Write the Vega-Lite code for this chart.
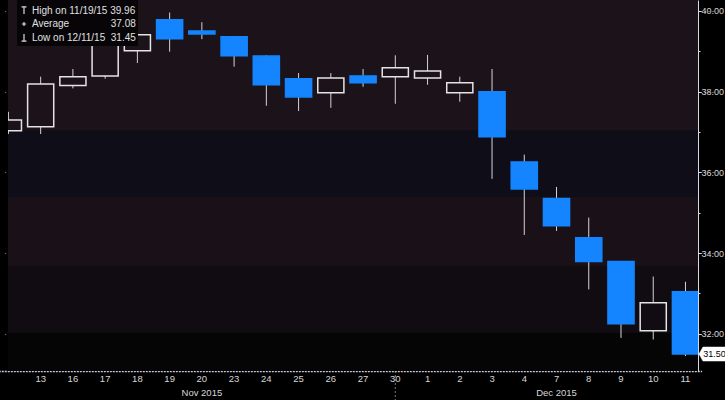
{
  "$schema": "https://vega.github.io/schema/vega-lite/v6.json",
  "autosize": {"type": "none"},
  "width": 690,
  "height": 371,
  "padding": {"left": 8, "top": 0, "right": 27, "bottom": 29},
  "background": "#000000",
  "config": {
    "view": {"stroke": null},
    "font": "Liberation Sans, Arial, sans-serif"
  },
  "datasets": {
    "prices": [
      {"date": "2015-11-12", "open": 37.03, "close": 37.30, "high": 37.50, "low": 36.95},
      {"date": "2015-11-13", "open": 37.13, "close": 38.19, "high": 38.37, "low": 36.95},
      {"date": "2015-11-16", "open": 38.15, "close": 38.37, "high": 38.56, "low": 38.08},
      {"date": "2015-11-17", "open": 38.39, "close": 39.20, "high": 39.22, "low": 38.32},
      {"date": "2015-11-18", "open": 39.01, "close": 39.41, "high": 39.48, "low": 38.71},
      {"date": "2015-11-19", "open": 39.78, "close": 39.31, "high": 39.96, "low": 38.99},
      {"date": "2015-11-20", "open": 39.50, "close": 39.43, "high": 39.72, "low": 39.30},
      {"date": "2015-11-23", "open": 39.36, "close": 38.89, "high": 39.38, "low": 38.62},
      {"date": "2015-11-24", "open": 38.88, "close": 38.17, "high": 38.90, "low": 37.65},
      {"date": "2015-11-25", "open": 38.32, "close": 37.87, "high": 38.46, "low": 37.52},
      {"date": "2015-11-26", "open": 37.97, "close": 38.34, "high": 38.46, "low": 37.60},
      {"date": "2015-11-27", "open": 38.39, "close": 38.22, "high": 38.56, "low": 38.12},
      {"date": "2015-11-30", "open": 38.37, "close": 38.59, "high": 38.90, "low": 37.70},
      {"date": "2015-12-01", "open": 38.34, "close": 38.51, "high": 38.91, "low": 38.17},
      {"date": "2015-12-02", "open": 37.97, "close": 38.22, "high": 38.37, "low": 37.75},
      {"date": "2015-12-03", "open": 38.00, "close": 36.88, "high": 38.56, "low": 35.84},
      {"date": "2015-12-04", "open": 36.26, "close": 35.59, "high": 36.44, "low": 34.45},
      {"date": "2015-12-07", "open": 35.35, "close": 34.68, "high": 35.64, "low": 34.55},
      {"date": "2015-12-08", "open": 34.38, "close": 33.79, "high": 34.88, "low": 33.10},
      {"date": "2015-12-09", "open": 33.79, "close": 32.25, "high": 33.80, "low": 31.90},
      {"date": "2015-12-10", "open": 32.08, "close": 32.77, "high": 33.42, "low": 31.86},
      {"date": "2015-12-11", "open": 33.04, "close": 31.50, "high": 33.29, "low": 31.45}
    ],
    "bands": [
      {"band": "a", "lo": 37.05, "hi": 40.27},
      {"band": "b", "lo": 35.39, "hi": 37.05},
      {"band": "c", "lo": 33.66, "hi": 35.39},
      {"band": "d", "lo": 32.02, "hi": 33.66},
      {"band": "e", "lo": 31.08, "hi": 32.02}
    ],
    "stats": [
      {"entry": "Last Price\u00a0\u00a0\u00a0\u00a0\u00a0\u00a0\u00a0\u00a0\u00a0\u00a0\u00a0\u00a031.50", "value": 31.50},
      {"entry": "High on 11/19/15\u00a039.96", "value": 39.96},
      {"entry": "Average\u00a0\u00a0\u00a0\u00a0\u00a0\u00a0\u00a0\u00a0\u00a0\u00a0\u00a0\u00a0\u00a0\u00a0\u00a037.08", "value": 37.08},
      {"entry": "Low on 12/11/15\u00a0\u00a031.45", "value": 31.45}
    ]
  },
  "layer": [
    {
      "data": {"name": "bands"},
      "mark": {"type": "rect"},
      "encoding": {
        "y": {
          "field": "hi",
          "type": "quantitative",
          "scale": {"domain": [31.08, 40.27], "nice": false, "zero": false},
          "axis": {
            "orient": "right",
            "title": null,
            "values": [32, 33, 34, 35, 36, 37, 38, 39, 40],
            "labelExpr": "datum.value % 2 == 0 ? format(datum.value, '.2f') : ''",
            "labelColor": "#d6d6d6",
            "labelFontSize": 9,
            "labelPadding": 0,
            "domainColor": "#d8d8e4",
            "domainWidth": 1,
            "tickColor": "#e0e0e0",
            "tickSize": {"condition": {"test": "datum.value % 2 == 0", "value": 3}, "value": 2},
            "grid": true,
            "gridColor": "#9a9a9a",
            "gridDash": [2, 2],
            "gridWidth": 1,
            "gridOpacity": {"condition": {"test": "datum.value % 2 == 0", "value": 0.7}, "value": 0}
          }
        },
        "y2": {"field": "lo"},
        "color": {
          "field": "band",
          "type": "nominal",
          "scale": {"domain": ["a", "b", "c", "d", "e"], "range": ["#1c1219", "#0e0d18", "#1a1018", "#110c12", "#050506"]},
          "legend": null
        }
      }
    },
    {
      "data": {"name": "prices"},
      "transform": [
        {"calculate": "max(datum.open, datum.close)", "as": "top"},
        {"calculate": "min(datum.open, datum.close)", "as": "bottom"}
      ],
      "layer": [
        {
          "mark": {"type": "rule", "color": "#d4d4d4", "strokeWidth": 1, "clip": true},
          "encoding": {
            "x": {
              "field": "date",
              "type": "ordinal",
              "scale": {
                "domain": ["2015-11-12", "2015-11-13", "2015-11-16", "2015-11-17", "2015-11-18", "2015-11-19", "2015-11-20", "2015-11-23", "2015-11-24", "2015-11-25", "2015-11-26", "2015-11-27", "2015-11-30", "2015-12-01", "2015-12-02", "2015-12-03", "2015-12-04", "2015-12-07", "2015-12-08", "2015-12-09", "2015-12-10", "2015-12-11"],
                "range": [-15.7, 693.6],
                "paddingInner": 0.19,
                "paddingOuter": 0.095
              },
              "axis": {
                "title": null,
                "labelExpr": "datum.value == '2015-11-12' ? '' : datum.value == '2015-11-20' ? ['20', 'Nov 2015'] : datum.value == '2015-12-07' ? ['7', 'Dec 2015'] : '' + toNumber(slice(datum.value, 8))",
                "labelAngle": 0,
                "labelColor": "#d6d6d6",
                "labelFontSize": 9.5,
                "labelLineHeight": 14,
                "labelPadding": 2,
                "labelBaseline": "top",
                "ticks": false,
                "domainColor": "#c8c8dc",
                "domainWidth": 1.5,
                "domainDash": [2, 1],
                "grid": true,
                "bandPosition": 0.5,
                "gridColor": "#9a9a9a",
                "gridDash": [2, 2],
                "gridOpacity": {"condition": {"test": "indexof(['2015-11-13', '2015-11-20', '2015-11-30', '2015-12-08'], datum.value) >= 0", "value": 0.7}, "value": 0}
              }
            },
            "y": {"field": "high", "type": "quantitative"},
            "y2": {"field": "top"}
          }
        },
        {
          "mark": {"type": "rule", "color": "#d4d4d4", "strokeWidth": 1, "clip": true},
          "encoding": {
            "x": {"field": "date", "type": "ordinal"},
            "y": {"field": "bottom", "type": "quantitative"},
            "y2": {"field": "low"}
          }
        },
        {
          "mark": {"type": "bar", "clip": true, "strokeWidth": 1.5},
          "encoding": {
            "x": {"field": "date", "type": "ordinal"},
            "y": {"field": "top", "type": "quantitative"},
            "y2": {"field": "bottom"},
            "fill": {"condition": {"test": "datum.close > datum.open", "value": "transparent"}, "value": "#1485ff"},
            "stroke": {"condition": {"test": "datum.close > datum.open", "value": "#e4e4e4"}, "value": "#1485ff"}
          }
        },
        {
          "transform": [{"filter": "datum.date == '2015-11-30'"}],
          "mark": {"type": "rule", "color": "#9a9a9a", "strokeDash": [2, 2], "strokeWidth": 1, "opacity": 0.8},
          "encoding": {
            "x": {"field": "date", "type": "ordinal"},
            "y": {"datum": 31.08, "type": "quantitative"},
            "y2": {"datum": 30.3}
          }
        },
        {
          "transform": [{"filter": "datum.date == '2015-12-11'"}],
          "mark": {"type": "point", "filled": true, "fill": "#ffffff", "stroke": "#ffffff", "strokeWidth": 0.5, "opacity": 1, "size": 100, "shape": "M2.7,0L3.5,-1.4L8.6,-1.4L8.6,1.4L3.5,1.4Z"},
          "encoding": {
            "x": {"field": "date", "type": "ordinal"},
            "y": {"field": "close", "type": "quantitative"}
          }
        },
        {
          "transform": [{"filter": "datum.date == '2015-12-11'"}],
          "mark": {"type": "text", "color": "#000000", "fontSize": 9, "align": "center", "baseline": "middle", "dx": 29},
          "encoding": {
            "x": {"field": "date", "type": "ordinal"},
            "y": {"field": "close", "type": "quantitative"},
            "text": {"field": "close", "type": "quantitative", "format": ".2f"}
          }
        }
      ]
    },
    {
      "data": {"name": "stats"},
      "mark": {"type": "point", "opacity": 0, "filled": false},
      "encoding": {
        "x": {"datum": "2015-11-12", "type": "ordinal"},
        "y": {"field": "value", "type": "quantitative"},
        "shape": {
          "field": "entry",
          "type": "nominal",
          "sort": null,
          "scale": {
            "range": [
              "M-1,-0.6L1,-0.6L1,0.6L-1,0.6Z",
              "M-0.7,-1L0.7,-1M0,-1L0,1",
              "M-0.6,0L0.6,0M0,-0.6L0,0.6",
              "M0,-1L0,1M-0.7,1L0.7,1"
            ]
          },
          "legend": {
            "title": null,
            "orient": "none",
            "legendX": 9,
            "legendY": -10,
            "padding": 2,
            "rowPadding": 2.5,
            "fillColor": "#070508",
            "symbolOpacity": 1,
            "symbolFillColor": "transparent",
            "symbolStrokeColor": "#dcdcdc",
            "symbolStrokeWidth": 1.2,
            "symbolSize": 50,
            "labelColor": "#e0e0e0",
            "labelFontSize": 10,
            "labelOffset": 3,
            "labelLimit": 200
          }
        }
      }
    }
  ]
}
